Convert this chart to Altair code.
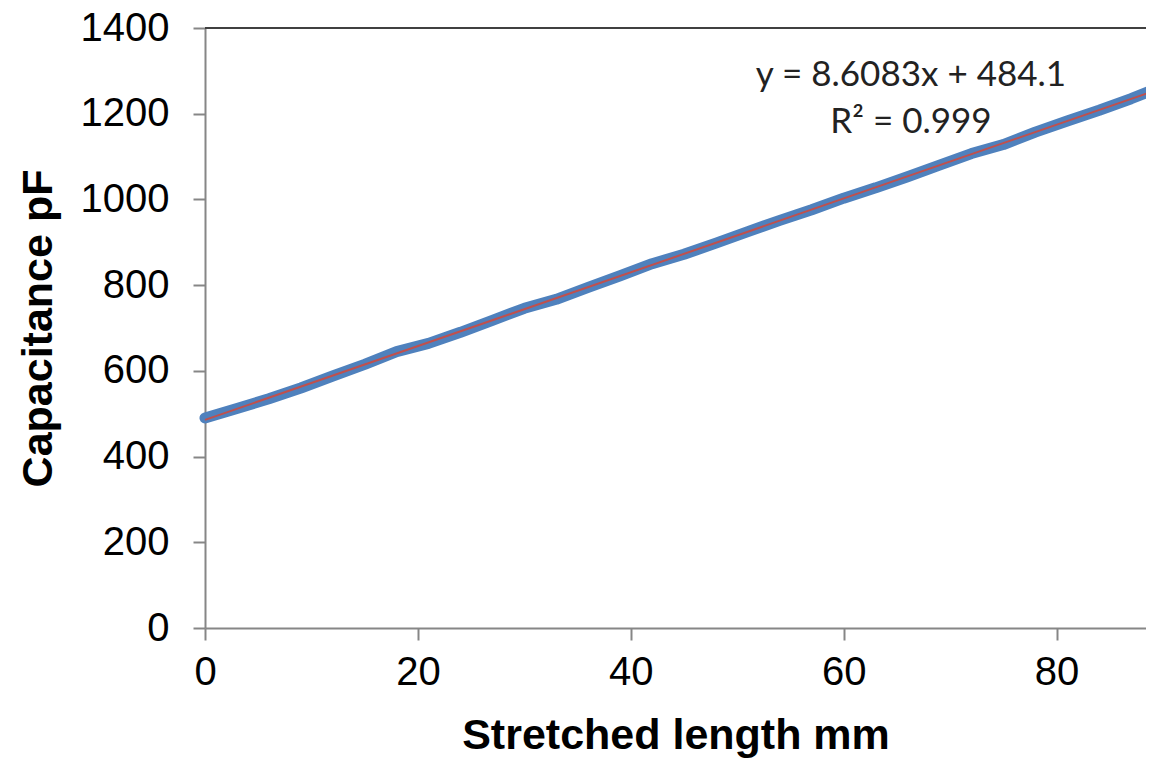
import altair as alt
import pandas as pd

length_mm = [0, 3, 6, 9, 12, 15, 18, 21, 24, 27, 30, 33, 36, 39, 42, 45, 48,
             51, 54, 57, 60, 63, 66, 69, 72, 75, 78, 81, 84, 87, 89]
capacitance_pf = [490, 512, 535, 560, 588, 615, 645, 664, 690, 718, 746, 767,
                  795, 822, 850, 872, 898, 925, 951, 976, 1003, 1027, 1053,
                  1080, 1107, 1128, 1157, 1183, 1208, 1235, 1255]

eq_line1 = "y = 8.6083x + 484.1"
eq_line2 = "R\u00b2 = 0.999"
y_ticks = [0, 200, 400, 600, 800, 1000, 1200, 1400]
x_ticks = [0, 20, 40, 60, 80]

df = pd.DataFrame({"x": length_mm, "y": capacitance_pf})

x_scale = alt.Scale(domain=[0, 88.4], nice=False, zero=False)
y_scale = alt.Scale(domain=[0, 1400], nice=False)

x_enc = alt.X("x:Q", scale=x_scale, title="Stretched length mm",
              axis=alt.Axis(values=x_ticks, grid=False, tickSize=12, format="d",
                            labelFlush=False, labelPadding=12, titlePadding=22))
y_enc = alt.Y("y:Q", scale=y_scale, title="Capacitance pF",
              axis=alt.Axis(values=y_ticks, grid=False, tickSize=12, format="d",
                            labelFlush=False, labelPadding=24, titlePadding=20))

base = alt.Chart(df)

data_line = base.mark_line(color="#4F81BD", strokeWidth=11,
                           strokeCap="round", strokeJoin="round").encode(x=x_enc, y=y_enc)

trend = base.transform_regression("x", "y", method="linear").mark_line(
    color="#C0504D", strokeWidth=2).encode(
    x=alt.X("x:Q", scale=x_scale), y=alt.Y("y:Q", scale=y_scale))

top_border = base.mark_rule(color="#404040", strokeWidth=2).encode(
    x=alt.value(0), x2=alt.value(941), y=alt.value(0))

ann1 = alt.Chart(pd.DataFrame({"t": [eq_line1]})).mark_text(
    font="Lato", fontSize=35, color="#222222", align="center", baseline="middle"
).encode(text="t:N", x=alt.value(706), y=alt.value(47))

ann2 = alt.Chart(pd.DataFrame({"t": [eq_line2]})).mark_text(
    font="Lato", fontSize=35, color="#222222", align="center", baseline="middle"
).encode(text="t:N", x=alt.value(706), y=alt.value(94))

chart = alt.layer(data_line, trend, top_border, ann1, ann2).properties(
    width=941, height=600,
    autosize=alt.AutoSizeParams(type="none"),
    padding={"left": 197, "top": 20, "right": 0, "bottom": 135},
).configure_view(stroke=None).configure_axis(
    domainColor="#868686", tickColor="#868686", domainWidth=2, tickWidth=2,
    labelFont="Liberation Sans", labelFontSize=40, labelColor="#000000",
    titleFont="Liberation Sans", titleFontSize=43, titleFontWeight="bold",
    titleColor="#000000",
)

chart.save("out.html", embed_options={"renderer": "svg", "actions": False})
